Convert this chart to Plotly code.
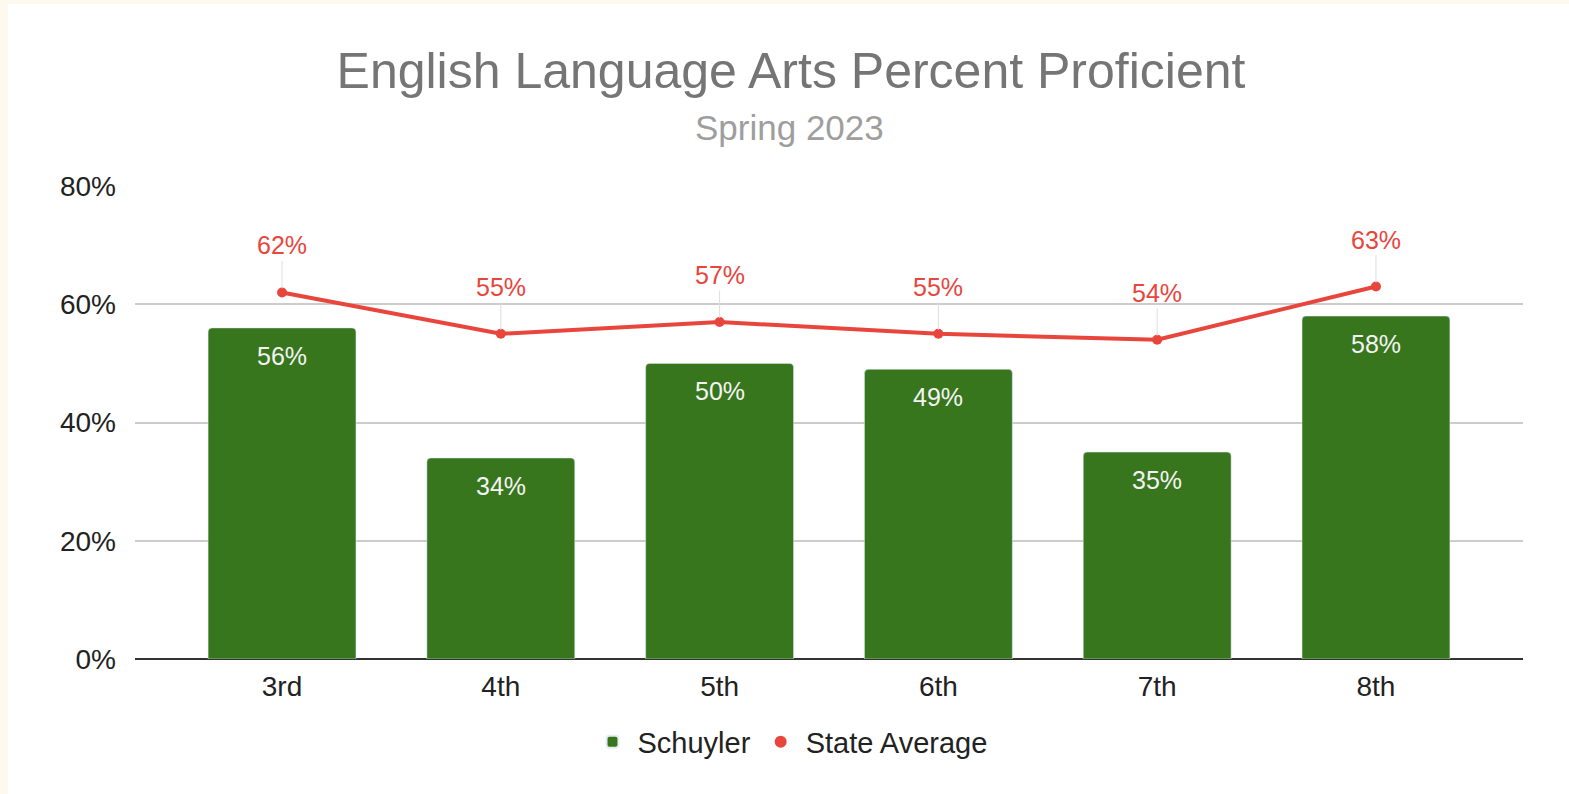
import plotly.graph_objects as go

grades = ["3rd", "4th", "5th", "6th", "7th", "8th"]
schuyler = [56, 34, 50, 49, 35, 58]
state_avg = [62, 55, 57, 55, 54, 63]
y_ticks = [0, 20, 40, 60, 80]

GREEN = "#38761d"
RED = "#e8453c"
FONT = "Liberation Sans"

# plot area in pixels, used to place layout items in paper coords
PL, PR, PT, PB = 135, 1523, 186, 659


def px_x(px):
    return (px - PL) / (PR - PL)


def px_y(py):
    return (PB - py) / (PB - PT)


fig = go.Figure()

fig.add_trace(go.Bar(
    x=grades, y=schuyler, name="Schuyler",
    marker=dict(color=GREEN, cornerradius=4),
))
fig.add_trace(go.Scatter(
    x=grades, y=state_avg, mode="lines", showlegend=False,
    line=dict(color=RED, width=4), hoverinfo="skip",
))
fig.add_trace(go.Scatter(
    x=grades, y=state_avg, mode="markers", name="State Average",
    marker=dict(color=RED, size=10),
))

# bar value labels, just below top of each bar
for g, v in zip(grades, schuyler):
    fig.add_annotation(x=g, y=v, text=f"{v}%", showarrow=False,
                       yanchor="middle", yshift=-28,
                       font=dict(family=FONT, size=25, color="#f3f3f3"))

# state average labels with thin leader lines
for g, v in zip(grades, state_avg):
    fig.add_annotation(x=g, y=v, text=f"{v}%", showarrow=True,
                       arrowhead=0, arrowwidth=1, arrowcolor="#dddddd",
                       ax=0, ay=-47, standoff=4,
                       font=dict(family=FONT, size=25, color=RED))

fig.add_annotation(text="Spring 2023", xref="paper", yref="paper",
                   x=px_x(789), y=px_y(128), showarrow=False,
                   xanchor="center", yanchor="middle",
                   font=dict(family=FONT, size=35, color="#9e9e9e"))

# cream edge round the white card
fig.add_shape(type="rect", xref="paper", yref="paper", layer="below",
              x0=px_x(8), x1=px_x(1575), y0=px_y(800), y1=px_y(4),
              fillcolor="white", line=dict(width=0))

fig.update_layout(
    width=1569, height=794,
    margin=dict(l=PL, r=1569 - PR, t=PT, b=794 - PB),
    paper_bgcolor="#fef9ee", plot_bgcolor="rgba(0,0,0,0)",
    font=dict(family=FONT, size=28, color="#222222"),
    title=dict(text="English Language Arts Percent Proficient",
               x=791 / 1569, xanchor="center", xref="container",
               y=1 - 70 / 794, yanchor="middle", yref="container",
               font=dict(family=FONT, size=50, color="#757575")),
    bargap=0.324,
    xaxis=dict(showgrid=False, ticks="", showline=False,
               range=[-0.672, 5.672], ticklabelstandoff=8,
               tickfont=dict(family=FONT, size=28, color="#222222")),
    yaxis=dict(range=[0, 80], tickvals=y_ticks,
               ticktext=[f"{t}%" for t in y_ticks],
               showgrid=True, gridcolor="#cccccc", gridwidth=1.5,
               zeroline=True, zerolinecolor="#333333", zerolinewidth=2,
               ticks="", ticklabelstandoff=18,
               tickfont=dict(family=FONT, size=28, color="#222222")),
    legend=dict(orientation="h", xref="container", yref="container",
                x=790 / 1569, xanchor="center", y=1 - 742 / 794,
                yanchor="middle", bgcolor="white",
                font=dict(family=FONT, size=29, color="#222222"),
                itemsizing="constant", itemwidth=40),
    showlegend=True,
)

fig.write_html("out.html", config={"displayModeBar": False},
               post_script="document.body.style.margin='0';")
